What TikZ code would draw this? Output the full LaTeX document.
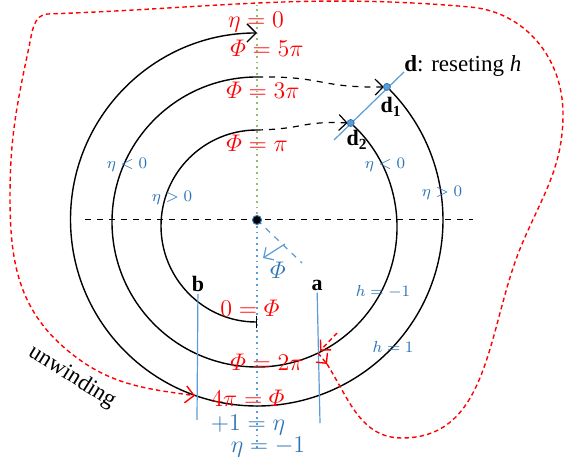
\documentclass[tikz,border=0pt]{standalone}
\usepackage{amsmath}
\usepackage{fontspec}
\setmainfont{Liberation Serif}
\usetikzlibrary{arrows.meta}

\definecolor{phired}{RGB}{255,0,0}
\definecolor{etablue}{RGB}{46,117,182}
\definecolor{lineblue}{RGB}{91,155,213}
\definecolor{axisgreen}{RGB}{150,185,115}

\begin{document}
\begin{tikzpicture}[x=0.5pt, y=0.5pt,
    track/.style={line width=0.7pt, black},
    jump/.style={line width=0.6pt, dashed, -{Straight Barb[length=1.4mm]}, shorten >=1.5pt},
    axis/.style={line width=0.5pt, dashed},
    phase/.style={text=phired, font=\fontsize{11.5}{13}\selectfont, inner sep=1pt},
    eta/.style={text=etablue, font=\fontsize{11.5}{13}\selectfont, inner sep=1pt},
    sign/.style={text=etablue, font=\footnotesize, inner sep=0pt},
    tag/.style={font=\fontsize{11}{13}\selectfont\bfseries, inner sep=1pt},
    cut/.style={lineblue, line width=0.6pt},
    wind/.style={phired, line width=0.7pt, dash pattern=on 2.2pt off 1.6pt},
    dot/.style={fill=lineblue, draw=etablue, line width=0.4pt}
]
\useasboundingbox (0,0) rectangle (566,459);

% Centre and axes
\coordinate (O) at (257,239);
\coordinate (hl) at (85,239);
\coordinate (hr) at (473,239);
\coordinate (vt) at (257,454);
\coordinate (vb) at (257,9);
\draw[axis] (hl) -- (hr);
\draw[axisgreen, line width=0.9pt, dotted] (O) -- (vt);
\draw[lineblue, line width=0.9pt, dotted] (O) -- (vb);

% Spiral: left halves
\draw[track, {Bar[width=2.2mm]}-] (257,137) arc[start angle=270, end angle=90, radius=96] coordinate (p1);
\draw[track] (257,92) arc[start angle=270, end angle=90, radius=145] coordinate (p2);
\draw[track, -{Straight Barb[length=1.6mm]}] (257,53) arc[start angle=270, end angle=90, radius=186.5] coordinate (p3);

% Spiral: right halves, starting at d
\coordinate (d2) at (350.7,336);
\coordinate (d1) at (386.9,372.1);
\draw[track] (d2) arc[start angle=48, end angle=-90, radius=140];
\draw[track] (d1) arc[start angle=45.7, end angle=-90, radius=186];

% Jumps to d
\draw[jump] (p1) .. controls (305,330) and (300,338) .. (d2);
\draw[jump] (p2) .. controls (325,383) and (318,371) .. (d1);

% Reset line d
\node[anchor=base west, inner sep=0pt, font=\fontsize{11.5}{13}\selectfont] (reset) at (404,387) {\textbf{d}: reseting \textit{h}};
\coordinate (dA) at (334,319);
\draw[cut] (dA) -- (reset.base west);
\foreach \p in {d1,d2} {
    \filldraw[dot] (\p) circle (3.5);
}
\node[tag] (d1l) at (391,352) {d\textsubscript{1}};
\node[tag] (d2l) at (357,319) {d\textsubscript{2}};

% Angle Phi
\coordinate (ang) at (302,196);
\coordinate (arrA) at (285,215);
\coordinate (arrB) at (263,201);
\draw[cut, dashed] (O) -- (ang);
\draw[cut, -{Straight Barb[length=1.3mm]}] (arrA) -- (arrB);
\filldraw[fill=black, draw=etablue, line width=0.5pt] (O) circle (4.5);
\node[eta] (phi) at (278,189) {$\varPhi$};

% Cuts a and b
\node[tag] (b) at (198,175) {b};
\node[tag] (a) at (317,174) {a};
\coordinate (bEnd) at (197,39);
\coordinate (aEnd) at (320,36);
\draw[cut] (b) -- (bEnd);
\draw[cut] (a) -- (aEnd);

% Red labels
\foreach \x/\y/\t [count=\i] in {256/437/{\eta = 0}, 267/411/{\varPhi = 5\pi}, 263/369/{\varPhi = 3\pi},
    257/316/{\varPhi = \pi}, 250/151/{0 = \varPhi}, 267/97/{\varPhi = 2\pi}, 248/61/{4\pi = \varPhi}} {
    \node[phase] (ph\i) at (\x,\y) {$\t$};
}

% Blue labels
\node[eta] (plus) at (248,34) {$+1 = \eta$};
\node[eta] (minus) at (268,12) {$\eta = -1$};
\foreach \x/\y/\t [count=\i] in {127/294/{\eta < 0}, 172/261/{\eta > 0}, 385/294/{\eta < 0},
    442/266/{\eta > 0}, 383/167/{h = -1}, 393/112/{h = 1}} {
    \node[sign] (s\i) at (\x,\y) {$\t$};
}

% Unwinding
\coordinate (hitA) at (318,106);
\coordinate (hitB) at (197,63);
\coordinate (startA) at (337,126);
\coordinate (outA) at (327,95);
\draw[wind, -{Straight Barb[length=1.3mm]}, shorten >=1.5pt] (startA) -- (hitA);
\draw[wind, -{Straight Barb[length=1.3mm]}] (hitA) -- (outA);
\draw[wind, -{Straight Barb[length=1.5mm]}, shorten >=1pt] (outA)
    to[out=-58, in=180] (402,21)
    to[out=0, in=-113] (522,215)
    to[out=67, in=-90] (563,345)
    to[out=90, in=-5] (470,452)
    to[out=175, in=2] (48,445)
    to[out=182, in=78] (29,412)
    to[out=-102, in=90] (10,262)
    to[out=-90, in=140] (67,109)
    to[out=-40, in=172] (hitB);
\node[rotate=-32, font=\fontsize{11.5}{14}\selectfont] (unwind) at (72,82) {unwinding};

\end{tikzpicture}
\end{document}
